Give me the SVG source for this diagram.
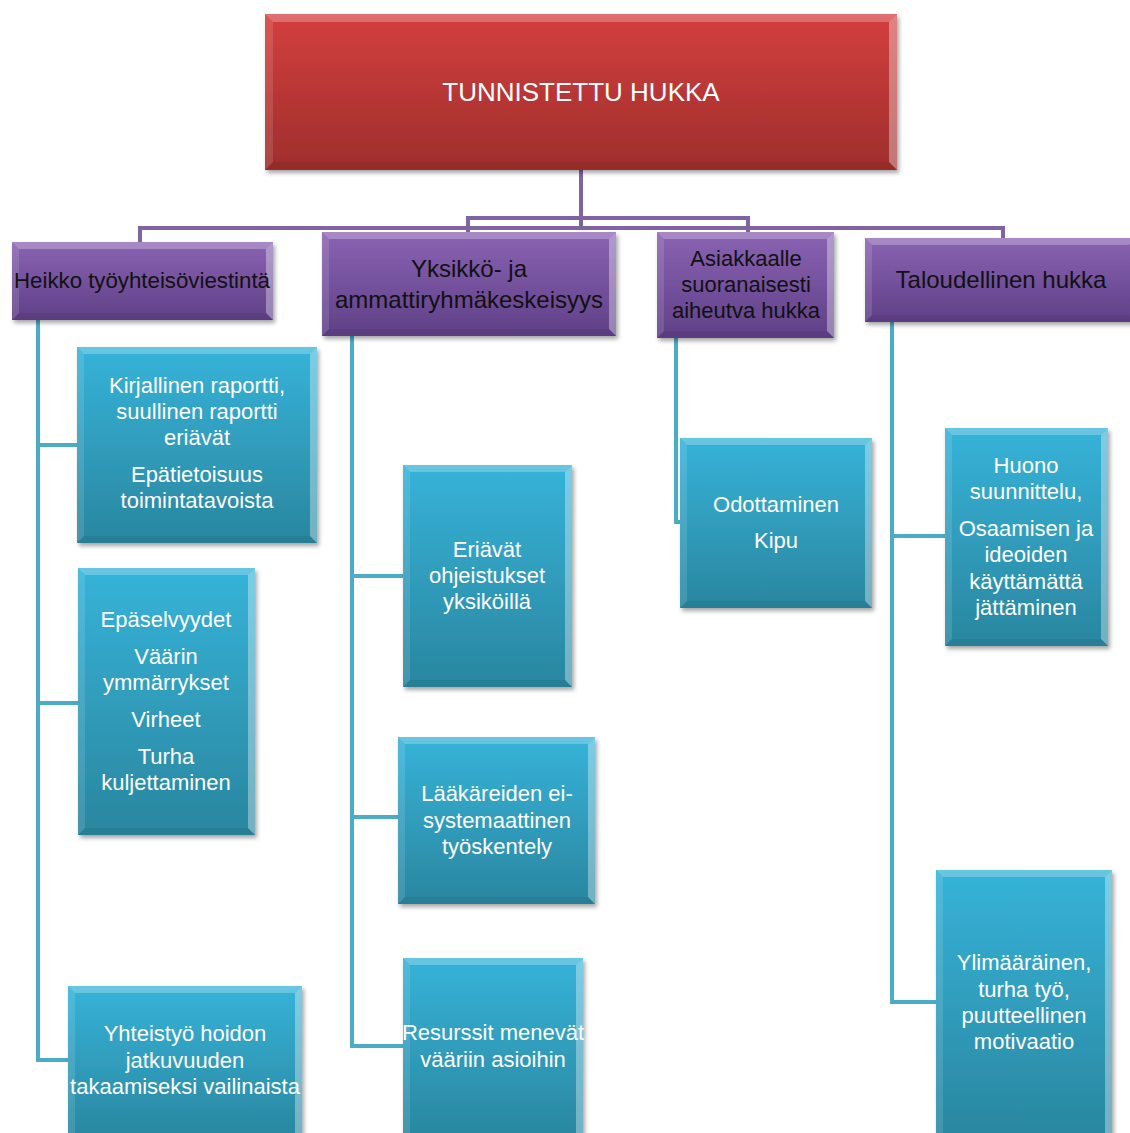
<svg xmlns="http://www.w3.org/2000/svg" width="1130" height="1133" viewBox="0 0 1130 1133">
<defs>
<linearGradient id="gRed" x1="0" y1="0" x2="0" y2="1"><stop offset="0" stop-color="#d43f3f"/><stop offset="1" stop-color="#9e2e2c"/></linearGradient>
<linearGradient id="gPur" x1="0" y1="0" x2="0" y2="1"><stop offset="0" stop-color="#8a63b3"/><stop offset="1" stop-color="#5f4087"/></linearGradient>
<linearGradient id="gTeal" x1="0" y1="0" x2="0" y2="1"><stop offset="0" stop-color="#36b3d9"/><stop offset="1" stop-color="#2a869f"/></linearGradient>
<filter id="sh" x="-5%" y="-5%" width="115%" height="115%"><feDropShadow dx="2" dy="3" stdDeviation="2" flood-color="#000" flood-opacity="0.35"/></filter>
</defs>
<style>
.red{fill:url(#gRed);filter:url(#sh)}
.pur{fill:url(#gPur);filter:url(#sh)}
.teal{fill:url(#gTeal);filter:url(#sh)}
.bt{fill:#fff;fill-opacity:.25}
.bl{fill:#fff;fill-opacity:.12}
.br{fill:#fff;fill-opacity:.35}
.bb{fill:#000;fill-opacity:.06}
.cp{fill:none;stroke:#8064a2;stroke-width:4}
.ct{fill:none;stroke:#4bacc6;stroke-width:4}
text{font-family:"Liberation Sans",Arial,sans-serif;text-anchor:middle}
.tw{fill:#fff;font-size:22px}
.tk{fill:#111;font-size:22px}
.th{fill:#fff;font-size:26px}
</style>
<g id="connectors">
<path class="cp" d="M581,170 V228 H140 V242"/>
<path class="cp" d="M581,170 V228 H1003 V238"/>
<path class="cp" d="M581,218 H468 V232"/>
<path class="cp" d="M581,218 H748 V232"/>
<path class="ct" d="M38,320 V1060 H68 M38,445 H77 M38,703 H78"/>
<path class="ct" d="M352,336 V1046 H403 M352,576 H403 M352,817 H398"/>
<path class="ct" d="M676,338 V522 H680"/>
<path class="ct" d="M892,322 V1002 H936 M892,536 H945"/>
</g>
<g id="root">
<rect class="red" x="265" y="14" width="632" height="156"/>
<polygon class="bt" points="265,14 897,14 889,22 273,22"/>
<polygon class="bl" points="265,14 273,22 273,162 265,170"/>
<polygon class="br" points="897,14 897,170 889,162 889,22"/>
<polygon class="bb" points="265,170 273,162 889,162 897,170"/>
<text class="th" x="581" y="101">TUNNISTETTU HUKKA</text>
</g>
<g id="heikko">
<rect class="pur" x="12" y="242" width="261" height="78"/>
<polygon class="bt" points="12,242 273,242 266,249 19,249"/>
<polygon class="bl" points="12,242 19,249 19,313 12,320"/>
<polygon class="br" points="273,242 273,320 266,313 266,249"/>
<polygon class="bb" points="12,320 19,313 266,313 273,320"/>
<text class="tk" x="142" y="288" textLength="256" lengthAdjust="spacingAndGlyphs">Heikko työyhteisöviestintä</text>
</g>
<g id="yksikko">
<rect class="pur" x="322" y="232" width="294" height="104"/>
<polygon class="bt" points="322,232 616,232 609,239 329,239"/>
<polygon class="bl" points="322,232 329,239 329,329 322,336"/>
<polygon class="br" points="616,232 616,336 609,329 609,239"/>
<polygon class="bb" points="322,336 329,329 609,329 616,336"/>
<text class="tk" style="font-size:24px" x="469" y="277">Yksikkö- ja</text>
<text class="tk" style="font-size:24px" x="469" y="308">ammattiryhmäkeskeisyys</text>
</g>
<g id="asiakkaalle">
<rect class="pur" x="657" y="232" width="177" height="106"/>
<polygon class="bt" points="657,232 834,232 827,239 664,239"/>
<polygon class="bl" points="657,232 664,239 664,331 657,338"/>
<polygon class="br" points="834,232 834,338 827,331 827,239"/>
<polygon class="bb" points="657,338 664,331 827,331 834,338"/>
<text class="tk" x="746" y="266">Asiakkaalle</text>
<text class="tk" x="746" y="292">suoranaisesti</text>
<text class="tk" x="746" y="318">aiheutva hukka</text>
</g>
<g id="taloudellinen">
<rect class="pur" x="865" y="238" width="271" height="84"/>
<polygon class="bt" points="865,238 1136,238 1129,245 872,245"/>
<polygon class="bl" points="865,238 872,245 872,315 865,322"/>
<polygon class="bb" points="865,322 872,315 1129,315 1136,322"/>
<text class="tk" style="font-size:24px" x="1001" y="288">Taloudellinen hukka</text>
</g>
<g id="t1">
<rect class="teal" x="77" y="347" width="240" height="196"/>
<polygon class="bt" points="77,347 317,347 310,354 84,354"/>
<polygon class="bl" points="77,347 84,354 84,536 77,543"/>
<polygon class="br" points="317,347 317,543 310,536 310,354"/>
<polygon class="bb" points="77,543 84,536 310,536 317,543"/>
<text class="tw" x="197" y="393">Kirjallinen raportti,</text>
<text class="tw" x="197" y="419">suullinen raportti</text>
<text class="tw" x="197" y="445">eriävät</text>
<text class="tw" x="197" y="482">Epätietoisuus</text>
<text class="tw" x="197" y="508">toimintatavoista</text>
</g>
<g id="t2">
<rect class="teal" x="78" y="568" width="177" height="267"/>
<polygon class="bt" points="78,568 255,568 248,575 85,575"/>
<polygon class="bl" points="78,568 85,575 85,828 78,835"/>
<polygon class="br" points="255,568 255,835 248,828 248,575"/>
<polygon class="bb" points="78,835 85,828 248,828 255,835"/>
<text class="tw" x="166" y="627">Epäselvyydet</text>
<text class="tw" x="166" y="664">Väärin</text>
<text class="tw" x="166" y="690">ymmärrykset</text>
<text class="tw" x="166" y="727">Virheet</text>
<text class="tw" x="166" y="764">Turha</text>
<text class="tw" x="166" y="790">kuljettaminen</text>
</g>
<g id="t3">
<rect class="teal" x="68" y="986" width="234" height="154"/>
<polygon class="bt" points="68,986 302,986 295,993 75,993"/>
<polygon class="bl" points="68,986 75,993 75,1140 68,1140"/>
<polygon class="br" points="302,986 302,1140 295,1140 295,993"/>
<text class="tw" x="185" y="1041">Yhteistyö hoidon</text>
<text class="tw" x="185" y="1068">jatkuvuuden</text>
<text class="tw" x="185" y="1094">takaamiseksi vailinaista</text>
</g>
<g id="t4">
<rect class="teal" x="403" y="465" width="169" height="222"/>
<polygon class="bt" points="403,465 572,465 565,472 410,472"/>
<polygon class="bl" points="403,465 410,472 410,680 403,687"/>
<polygon class="br" points="572,465 572,687 565,680 565,472"/>
<polygon class="bb" points="403,687 410,680 565,680 572,687"/>
<text class="tw" x="487" y="557">Eriävät</text>
<text class="tw" x="487" y="583">ohjeistukset</text>
<text class="tw" x="487" y="609">yksiköillä</text>
</g>
<g id="t5">
<rect class="teal" x="398" y="737" width="197" height="167"/>
<polygon class="bt" points="398,737 595,737 588,744 405,744"/>
<polygon class="bl" points="398,737 405,744 405,897 398,904"/>
<polygon class="br" points="595,737 595,904 588,897 588,744"/>
<polygon class="bb" points="398,904 405,897 588,897 595,904"/>
<text class="tw" x="497" y="801">Lääkäreiden ei-</text>
<text class="tw" x="497" y="828">systemaattinen</text>
<text class="tw" x="497" y="854">työskentely</text>
</g>
<g id="t6">
<rect class="teal" x="403" y="958" width="180" height="182"/>
<polygon class="bt" points="403,958 583,958 576,965 410,965"/>
<polygon class="bl" points="403,958 410,965 410,1140 403,1140"/>
<polygon class="br" points="583,958 583,1140 576,1140 576,965"/>
<text class="tw" x="493" y="1040">Resurssit menevät</text>
<text class="tw" x="493" y="1067">vääriin asioihin</text>
</g>
<g id="t7">
<rect class="teal" x="680" y="438" width="192" height="170"/>
<polygon class="bt" points="680,438 872,438 865,445 687,445"/>
<polygon class="bl" points="680,438 687,445 687,601 680,608"/>
<polygon class="br" points="872,438 872,608 865,601 865,445"/>
<polygon class="bb" points="680,608 687,601 865,601 872,608"/>
<text class="tw" x="776" y="512">Odottaminen</text>
<text class="tw" x="776" y="548">Kipu</text>
</g>
<g id="t8">
<rect class="teal" x="945" y="428" width="163" height="218"/>
<polygon class="bt" points="945,428 1108,428 1101,435 952,435"/>
<polygon class="bl" points="945,428 952,435 952,639 945,646"/>
<polygon class="br" points="1108,428 1108,646 1101,639 1101,435"/>
<polygon class="bb" points="945,646 952,639 1101,639 1108,646"/>
<text class="tw" x="1026" y="473">Huono</text>
<text class="tw" x="1026" y="499">suunnittelu,</text>
<text class="tw" x="1026" y="536">Osaamisen ja</text>
<text class="tw" x="1026" y="562">ideoiden</text>
<text class="tw" x="1026" y="589">käyttämättä</text>
<text class="tw" x="1026" y="615">jättäminen</text>
</g>
<g id="t9">
<rect class="teal" x="936" y="870" width="176" height="270"/>
<polygon class="bt" points="936,870 1112,870 1105,877 943,877"/>
<polygon class="bl" points="936,870 943,877 943,1140 936,1140"/>
<polygon class="br" points="1112,870 1112,1140 1105,1140 1105,877"/>
<text class="tw" x="1024" y="970">Ylimääräinen,</text>
<text class="tw" x="1024" y="997">turha työ,</text>
<text class="tw" x="1024" y="1023">puutteellinen</text>
<text class="tw" x="1024" y="1049">motivaatio</text>
</g>
</svg>
